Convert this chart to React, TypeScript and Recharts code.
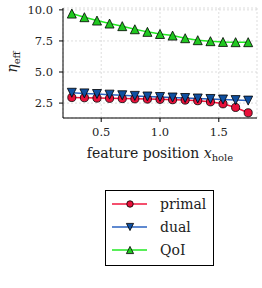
import { CartesianGrid, Line, LineChart, XAxis, YAxis } from "recharts";

const positions = [0.25, 0.357, 0.464, 0.571, 0.679, 0.786, 0.893, 1.0, 1.107, 1.214, 1.321, 1.429, 1.536, 1.643, 1.75];
const primal = [2.95, 2.93, 2.9, 2.88, 2.86, 2.84, 2.82, 2.8, 2.77, 2.74, 2.69, 2.6, 2.44, 2.15, 1.72];
const dual = [3.33, 3.28, 3.23, 3.18, 3.13, 3.08, 3.03, 2.99, 2.95, 2.91, 2.87, 2.83, 2.79, 2.74, 2.7];
const qoi = [9.7, 9.41, 9.14, 8.9, 8.69, 8.44, 8.23, 8.06, 7.93, 7.72, 7.56, 7.48, 7.42, 7.4, 7.4];
const xTicks = [0.5, 1.0, 1.5];
const yTicks = [2.5, 5.0, 7.5, 10.0];

const FONT = "DejaVu Serif";

type Marker = "circle" | "down" | "up";

const SERIES: { key: string; name: string; line: string; fill: string; marker: Marker }[] = [
  { key: "primal", name: "primal", line: "#f0143c", fill: "#e8103a", marker: "circle" },
  { key: "dual", name: "dual", line: "#2a62c0", fill: "#0f4fa0", marker: "down" },
  { key: "qoi", name: "QoI", line: "#22e822", fill: "#20c820", marker: "up" },
];

const data = positions.map((x, i) => ({ x, primal: primal[i], dual: dual[i], qoi: qoi[i] }));

function markerShape(kind: Marker, cx: number, cy: number, fill: string, s: number, key?: string) {
  if (kind === "circle") {
    return <circle key={key} cx={cx} cy={cy} r={s * 0.9} fill={fill} stroke="#000" strokeWidth={0.8} />;
  }
  const d =
    kind === "up"
      ? `M${cx},${cy - s}L${cx + s},${cy + s}L${cx - s},${cy + s}Z`
      : `M${cx},${cy + s}L${cx + s},${cy - s}L${cx - s},${cy - s}Z`;
  return <path key={key} d={d} fill={fill} stroke="#000" strokeWidth={0.8} />;
}

const makeDot = (kind: Marker, fill: string) => (p: any) =>
  markerShape(kind, p.cx, p.cy, fill, 4.5, `${kind}-${p.index}`);

const tickStyle = { fontFamily: FONT, fontSize: 11.5, fill: "#222" };

export default function App() {
  return (
    <div style={{ position: "absolute", left: 0, top: 0, width: 262, height: 288, background: "#fff" }}>
      <LineChart width={262} height={288} data={data} margin={{ top: 8, right: 5, bottom: 0, left: 0 }}>
        <CartesianGrid stroke="#cfcfcf" strokeDasharray="2 2" strokeWidth={0.7} />
        <XAxis
          dataKey="x"
          type="number"
          domain={[0.175, 1.825]}
          ticks={xTicks}
          tickFormatter={(v: number) => v.toFixed(1)}
          tick={tickStyle}
          tickSize={4}
          tickMargin={6}
          height={170}
          stroke="#000"
          allowDataOverflow
          label={{
            content: () => (
              <text x={160} y={158} textAnchor="middle" fontFamily={FONT} fontSize={14} fill="#222">
                feature position <tspan fontStyle="italic">x</tspan>
                <tspan fontSize={10} dy={3}>hole</tspan>
              </text>
            ),
          }}
        />
        <XAxis xAxisId="top" orientation="top" dataKey="x" type="number" domain={[0.175, 1.825]} tick={false} tickLine={false} height={0} stroke="#000" />
        <YAxis
          type="number"
          domain={[1.3, 10.15]}
          ticks={yTicks}
          tickFormatter={(v: number) => v.toFixed(1)}
          tick={tickStyle}
          tickSize={4}
          tickMargin={6}
          width={63}
          stroke="#000"
          allowDataOverflow
          label={{
            content: () => (
              <text x={17} y={62} transform="rotate(-90 17 62)" textAnchor="middle" fontFamily={FONT} fontSize={14} fill="#222">
                <tspan fontStyle="italic">η</tspan>
                <tspan fontSize={10} dy={3}>eff</tspan>
              </text>
            ),
          }}
        />
        <YAxis yAxisId="right" orientation="right" domain={[1.3, 10.15]} tick={false} tickLine={false} width={0} stroke="#000" />
        {SERIES.map((s) => (
          <Line
            key={s.key}
            dataKey={s.key}
            name={s.name}
            stroke={s.line}
            strokeWidth={1.5}
            dot={makeDot(s.marker, s.fill)}
            activeDot={false}
            isAnimationActive={false}
          />
        ))}
      </LineChart>
      <div
        style={{
          position: "absolute",
          left: 105,
          top: 190,
          width: 109,
          height: 76,
          border: "1px solid #000",
          boxSizing: "border-box",
        }}
      >
        <svg width={109} height={76} style={{ position: "absolute", left: -1, top: -1 }}>
          {SERIES.map((s, i) => {
            const y = 14 + i * 23;
            return (
              <g key={s.key}>
                <line x1={7} x2={42} y1={y} y2={y} stroke={s.line} strokeWidth={1.5} />
                {markerShape(s.marker, 25, y, s.fill, 3.6)}
                <text x={55} y={y + 5} fontFamily={FONT} fontSize={14} fill="#222">
                  {s.name}
                </text>
              </g>
            );
          })}
        </svg>
      </div>
    </div>
  );
}
